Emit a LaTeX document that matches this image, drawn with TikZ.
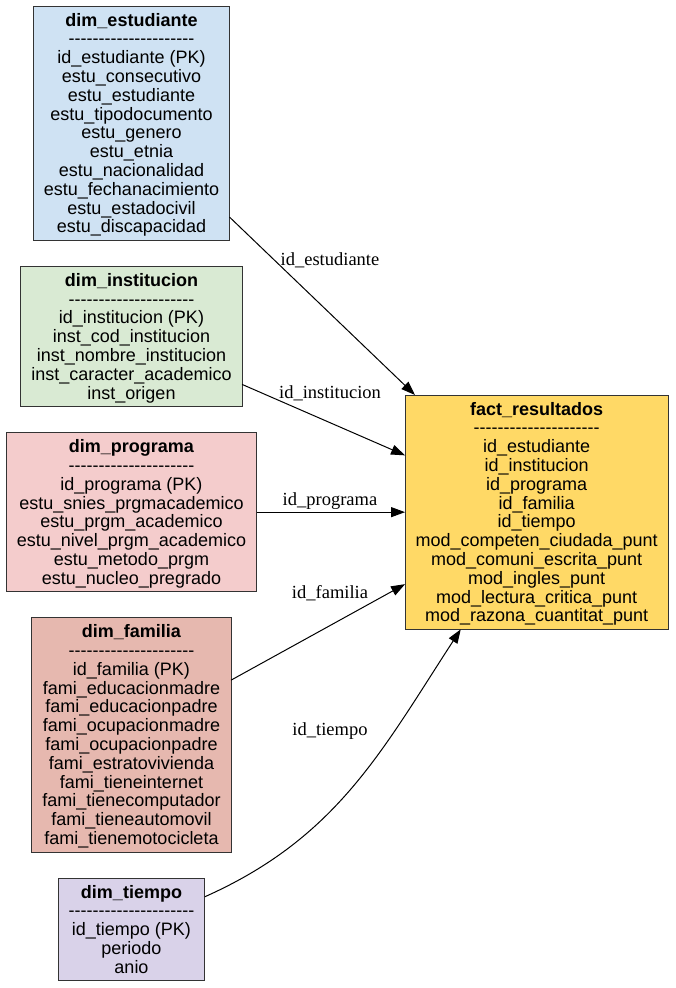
\documentclass[tikz,border=0pt]{standalone}
\usepackage{fontspec}
\newfontfamily\tabfont{Liberation Sans}[Ligatures=TeXOff]
\newfontfamily\relfont{Liberation Serif}
\usetikzlibrary{positioning, arrows.meta}

\definecolor{colEst}{HTML}{CFE2F3}
\definecolor{colInst}{HTML}{D9EAD3}
\definecolor{colProg}{HTML}{F4CCCC}
\definecolor{colFam}{HTML}{E6B8AF}
\definecolor{colTiempo}{HTML}{D9D2E9}
\definecolor{colFact}{HTML}{FFD966}

\newcommand{\arriba}{\rule{0pt}{20pt}}
\newcommand{\abajo}{\rule[-7.5pt]{0pt}{7.5pt}}
\newcommand{\sep}{---------------------}

\tikzset{
  tabla/.style={draw=black!80, line width=1pt, align=center, inner xsep=10.5pt,
    inner ysep=0pt, outer sep=0pt, font=\tabfont\fontsize{18}{18.8}\selectfont},
  rel/.style={font=\relfont\fontsize{18.5}{20}\selectfont, inner sep=0pt}
}

\begin{document}
\begin{tikzpicture}[node distance=26pt, >={Triangle[length=14pt,width=10pt]}]
  \useasboundingbox (0,0) rectangle (675pt,-988pt);

  \node[tabla, fill=colEst, anchor=north] (est) at (131.5pt,-6pt)
    {\arriba\textbf{dim\_estudiante}\\\sep\\id\_estudiante (PK)\\estu\_consecutivo\\
     estu\_estudiante\\estu\_tipodocumento\\estu\_genero\\estu\_etnia\\
     estu\_nacionalidad\\estu\_fechanacimiento\\estu\_estadocivil\\estu\_discapacidad\abajo};
  \node[tabla, fill=colInst] (inst) [below=of est]
    {\arriba\textbf{dim\_institucion}\\\sep\\id\_institucion (PK)\\inst\_cod\_institucion\\
     inst\_nombre\_institucion\\inst\_caracter\_academico\\inst\_origen\abajo};
  \node[tabla, fill=colProg] (prog) [below=of inst]
    {\arriba\textbf{dim\_programa}\\\sep\\id\_programa (PK)\\estu\_snies\_prgmacademico\\
     estu\_prgm\_academico\\estu\_nivel\_prgm\_academico\\estu\_metodo\_prgm\\
     estu\_nucleo\_pregrado\abajo};
  \node[tabla, fill=colFam] (fam) [below=of prog]
    {\arriba\textbf{dim\_familia}\\\sep\\id\_familia (PK)\\fami\_educacionmadre\\
     fami\_educacionpadre\\fami\_ocupacionmadre\\fami\_ocupacionpadre\\
     fami\_estratovivienda\\fami\_tieneinternet\\fami\_tienecomputador\\
     fami\_tieneautomovil\\fami\_tienemotocicleta\abajo};
  \node[tabla, fill=colTiempo] (tie) [below=of fam]
    {\arriba\textbf{dim\_tiempo}\\\sep\\id\_tiempo (PK)\\periodo\\anio\abajo};
  \node[tabla, fill=colFact] (fact) [right=148.5pt of prog]
    {\arriba\textbf{fact\_resultados}\\\sep\\id\_estudiante\\id\_institucion\\
     id\_programa\\id\_familia\\id\_tiempo\\mod\_competen\_ciudada\_punt\\
     mod\_comuni\_escrita\_punt\\mod\_ingles\_punt\\mod\_lectura\_critica\_punt\\
     mod\_razona\_cuantitat\_punt\abajo};

  \path[->, line width=1pt]
    (est)  edge (fact)
    (inst) edge (fact)
    (prog) edge (fact)
    (fam)  edge (fact)
    (tie)  edge [out=24, in=237] (fact);

  % edge labels
  \node[rel] (lEst)    at (330pt,-260pt) {id\_estudiante};
  \node[rel] (lInst)   at (330pt,-393pt) {id\_institucion};
  \node[rel] (lProg)   at (330pt,-501pt) {id\_programa};
  \node[rel] (lFam)    at (330pt,-593pt) {id\_familia};
  \node[rel] (lTiempo) at (330pt,-731pt) {id\_tiempo};
\end{tikzpicture}
\end{document}
